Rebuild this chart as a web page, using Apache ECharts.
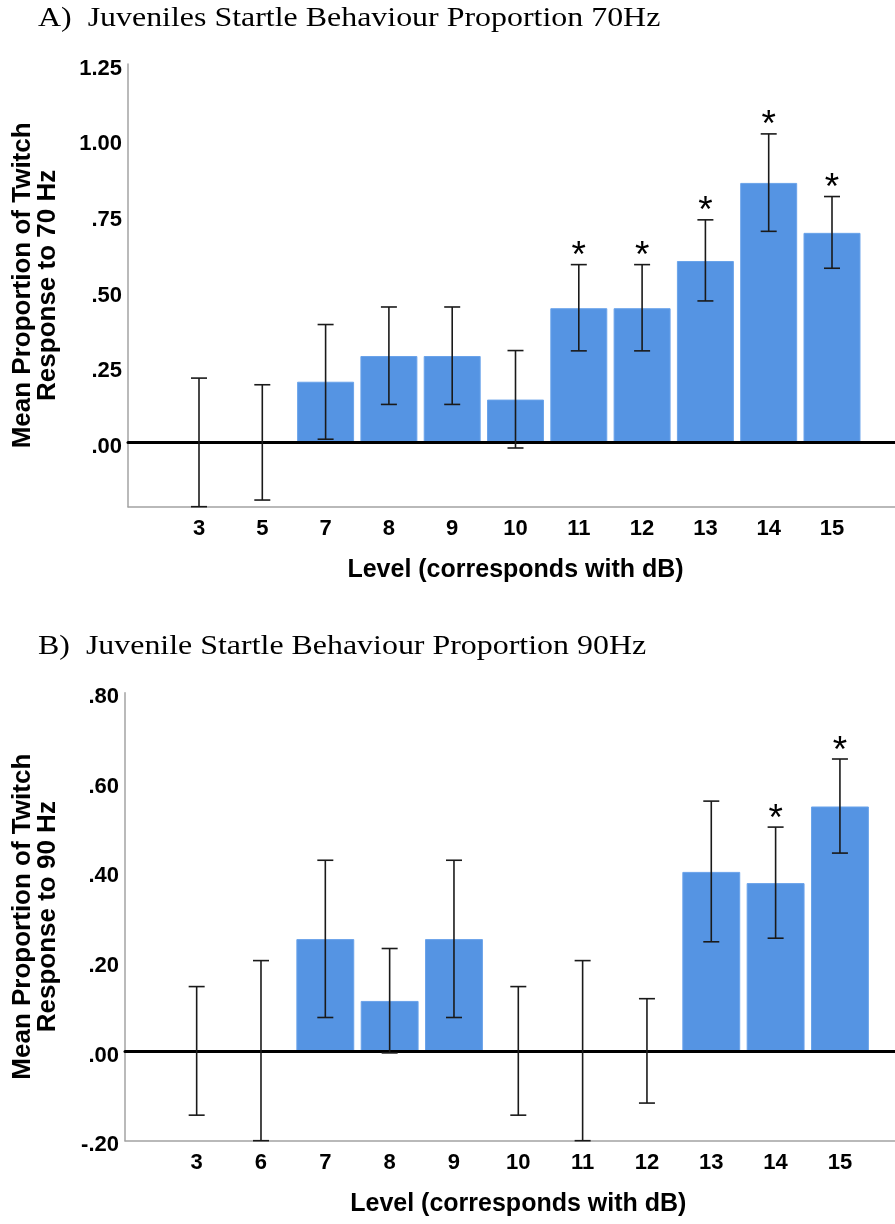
<!DOCTYPE html>
<html lang="en">
<head>
<meta charset="UTF-8">
<title>Juvenile Startle Behaviour Proportion</title>
<style>
  html, body { margin: 0; padding: 0; background: #fff; }
  #container { width: 895px; height: 1224px; }
</style>
</head>
<body>
<div id="container"></div>
<script src="https://cdn.jsdelivr.net/npm/echarts@6/dist/echarts.min.js"></script>
<script>
// panel A - 70 Hz
var levelsA = ['3', '5', '7', '8', '9', '10', '11', '12', '13', '14', '15'];
var meanA = [0, 0, 0.200, 0.285, 0.285, 0.141, 0.443, 0.443, 0.599, 0.857, 0.692];
var lowA  = [-0.213, -0.191, 0.010, 0.125, 0.125, -0.019, 0.302, 0.302, 0.467, 0.697, 0.575];
var highA = [0.212, 0.190, 0.389, 0.447, 0.447, 0.303, 0.587, 0.587, 0.735, 1.019, 0.812];
var starA = ['11', '12', '13', '14', '15'];
var ticksA = [0, 0.25, 0.5, 0.75, 1.0, 1.25];

// panel B - 90 Hz
var levelsB = ['3', '6', '7', '8', '9', '10', '11', '12', '13', '14', '15'];
var meanB = [0, 0, 0.250, 0.112, 0.250, 0, 0, 0, 0.400, 0.375, 0.546];
var lowB  = [-0.143, -0.200, 0.075, -0.004, 0.075, -0.143, -0.200, -0.116, 0.244, 0.252, 0.442];
var highB = [0.144, 0.202, 0.426, 0.229, 0.426, 0.144, 0.202, 0.117, 0.558, 0.500, 0.652];
var starB = ['14', '15'];
var ticksB = [-0.2, 0, 0.2, 0.4, 0.6, 0.8];

var SANS = '"Liberation Sans", Arial, sans-serif';
var SERIF = '"Liberation Serif", "Times New Roman", serif';

var chart = echarts.init(document.getElementById('container'));
var grid = [], xAxis = [], yAxis = [], series = [];

// SPSS style: 1.25, .75, .00, -.20
function fmt(v) {
  var s = Math.abs(v).toFixed(2).replace(/^0/, '');
  return (v < -1e-9 ? '-' : '') + s;
}

function errorBar(params, api) {
  var x = api.value(0);
  var lo = api.coord([x, api.value(1)]);
  var hi = api.coord([x, api.value(2)]);
  var cap = 8;
  var st = { stroke: '#1a1a1a', lineWidth: 1.6 };
  return {
    type: 'group',
    children: [
      { type: 'line', shape: { x1: hi[0], y1: hi[1], x2: lo[0], y2: lo[1] }, style: st },
      { type: 'line', shape: { x1: hi[0] - cap, y1: hi[1], x2: hi[0] + cap, y2: hi[1] }, style: st },
      { type: 'line', shape: { x1: lo[0] - cap, y1: lo[1], x2: lo[0] + cap, y2: lo[1] }, style: st }
    ]
  };
}

function star(params, api) {
  var pt = api.coord([api.value(0), api.value(1)]);
  var fs = 37;
  return {
    type: 'text',
    x: pt[0],
    y: pt[1] - 16 + 0.225 * fs,
    style: { text: '*', fontSize: fs, fontFamily: SANS, fill: '#000', align: 'center', verticalAlign: 'middle' }
  };
}

function addPanel(p) {
  var g = grid.length, xi = xAxis.length, yi = yAxis.length;
  // frame grid: axis lines, y labels and the zero line
  grid.push({ left: p.axisLeft, right: 0, top: p.top, height: p.height });
  // plot grid: narrower, the bars live here
  grid.push({ left: p.barLeft, width: p.barWidth, top: p.top, height: p.height });

  xAxis.push({
    gridIndex: g, type: 'value', min: 0, max: 1, position: 'bottom',
    axisLine: { onZero: false, lineStyle: { color: '#a3a3a3', width: 1.5 } },
    axisTick: { show: false }, axisLabel: { show: false }, splitLine: { show: false }
  });
  xAxis.push({
    gridIndex: g, type: 'value', min: 0, max: 1, position: 'bottom', z: 3,
    axisLine: { onZero: true, lineStyle: { color: '#000', width: 3 } },
    axisTick: { show: false }, axisLabel: { show: false }, splitLine: { show: false }
  });
  xAxis.push({
    gridIndex: g + 1, type: 'category', data: p.levels,
    axisLine: { show: false }, axisTick: { show: false },
    axisLabel: { interval: 0, margin: 11, fontSize: 22, fontWeight: 'bold', color: '#000', fontFamily: SANS },
    name: 'Level (corresponds with dB)', nameLocation: 'middle', nameGap: 51,
    nameTextStyle: { fontSize: 25, fontWeight: 'bold', color: '#000', fontFamily: SANS }
  });

  yAxis.push({
    gridIndex: g, type: 'value', min: p.min, max: p.max,
    axisLine: { show: true, onZero: false, lineStyle: { color: '#a3a3a3', width: 1.5 } },
    axisTick: { show: false }, splitLine: { show: false },
    axisLabel: {
      customValues: p.ticks, formatter: fmt, margin: 6,
      verticalAlign: 'top', lineHeight: 9,
      fontSize: 22, fontWeight: 'bold', color: '#000', fontFamily: SANS
    },
    name: p.yName, nameLocation: 'middle', nameGap: p.yNameGap,
    nameTextStyle: { fontSize: 26, lineHeight: 25, fontWeight: 'bold', color: '#000', fontFamily: SANS }
  });
  yAxis.push({ gridIndex: g + 1, type: 'value', min: p.min, max: p.max, show: false });

  series.push({
    type: 'bar', xAxisIndex: xi + 2, yAxisIndex: yi + 1,
    data: p.mean, barCategoryGap: '10%',
    itemStyle: { color: '#5594e3', borderColor: '#6aa3ea', borderWidth: 1 },
    z: 2, silent: true
  });
  series.push({
    type: 'custom', xAxisIndex: xi + 2, yAxisIndex: yi + 1, z: 4, silent: true,
    renderItem: errorBar,
    encode: { x: 0, y: [1, 2] },
    data: p.levels.map(function (l, i) { return [i, p.low[i], p.high[i]]; })
  });
  series.push({
    type: 'custom', xAxisIndex: xi + 2, yAxisIndex: yi + 1, z: 4, silent: true,
    renderItem: star,
    encode: { x: 0, y: 1 },
    data: p.stars.map(function (l) { var i = p.levels.indexOf(l); return [i, p.high[i]]; })
  });
}

addPanel({
  levels: levelsA, mean: meanA, low: lowA, high: highA, stars: starA, ticks: ticksA,
  min: lowA[0], max: 1.25,
  yName: 'Mean Proportion of Twitch\nResponse to 70 Hz', yNameGap: 68,
  axisLeft: 128, top: 64, height: 442.7, barLeft: 167.35, barWidth: 696.3
});
addPanel({
  levels: levelsB, mean: meanB, low: lowB, high: highB, stars: starB, ticks: ticksB,
  min: -0.2, max: 0.8,
  yName: 'Mean Proportion of Twitch\nResponse to 90 Hz', yNameGap: 65,
  axisLeft: 125, top: 692.7, height: 448, barLeft: 164.5, barWidth: 707.6
});

var option = {
  animation: false,
  backgroundColor: '#fff',
  graphic: [
    { type: 'text', x: 38, y: 19, scaleX: 1.14,
      style: { text: 'A)  Juveniles Startle Behaviour Proportion 70Hz', fontSize: 28, fontFamily: SERIF, fill: '#000', verticalAlign: 'middle' } },
    { type: 'text', x: 38, y: 647, scaleX: 1.14,
      style: { text: 'B)  Juvenile Startle Behaviour Proportion 90Hz', fontSize: 28, fontFamily: SERIF, fill: '#000', verticalAlign: 'middle' } }
  ],
  grid: grid,
  xAxis: xAxis,
  yAxis: yAxis,
  series: series
};

chart.setOption(option);
</script>
</body>
</html>
